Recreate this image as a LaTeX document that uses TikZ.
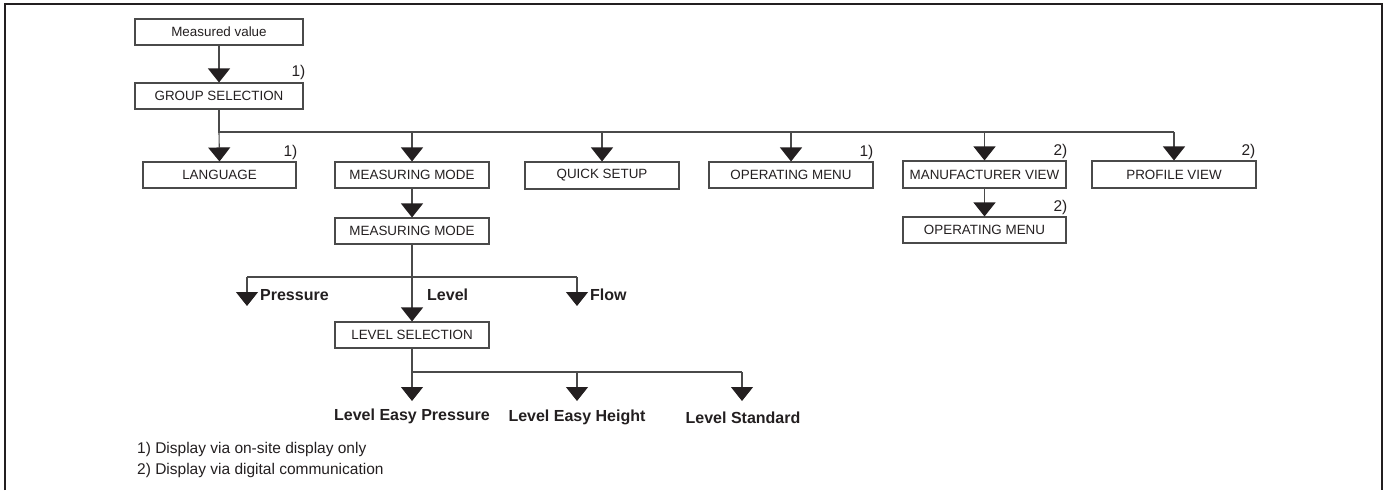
\documentclass[tikz,border=0pt]{standalone}
\usepackage{fontspec}
\setmainfont{Liberation Sans}
\usetikzlibrary{arrows.meta}
\definecolor{inkdark}{HTML}{231F20}
\definecolor{linegray}{HTML}{4A4A4A}
\begin{document}
\begin{tikzpicture}[x=1pt,y=-1pt,
  menubox/.style={draw=linegray, line width=1.1pt, inner sep=0pt,
    minimum height=26pt, text=inkdark,
    font=\fontsize{13.4}{16}\selectfont},
  fnmark/.style={inner sep=0pt, anchor=base east, text=inkdark,
    font=\fontsize{15.5}{18}\selectfont},
  choice/.style={inner sep=0pt, anchor=base, text=inkdark,
    font=\fontsize{16}{19}\selectfont\bfseries},
  note/.style={inner sep=0pt, anchor=base west, text=inkdark,
    font=\fontsize{15.5}{18}\selectfont},
  wire/.style={draw=linegray, line width=1.1pt},
  flowarrow/.style={wire, -{Triangle[width=22pt,length=14pt,fill=inkdark,color=inkdark]}}
]
\useasboundingbox (0,0) rectangle (1383,490);
% open frame
\draw[line width=2pt, inkdark] (5,490) -- (5,4) -- (1382,4) -- (1382,490);

% menu boxes
\node[menubox, minimum width=168pt] (mv)   at (219,32)  {Measured value};
\node[menubox, minimum width=168pt] (grp)  at (219,96)  {GROUP SELECTION};
\node[menubox, minimum width=153pt] (lang) at (219.5,175) {LANGUAGE};
\node[menubox, minimum width=154pt] (mm1)  at (412,175) {MEASURING MODE};
\node[menubox, minimum width=154pt] (mm2)  at (412,231) {MEASURING MODE};
\node[menubox, minimum width=154pt, minimum height=27pt] (qs) at (602,175.5) {QUICK SETUP};
\node[menubox, minimum width=164pt] (om1)  at (791,175) {OPERATING MENU};
\node[menubox, minimum width=163pt, minimum height=27pt] (mfv) at (984.5,174.5) {MANUFACTURER VIEW};
\node[menubox, minimum width=163pt] (om2)  at (984.5,230) {OPERATING MENU};
\node[menubox, minimum width=164pt, minimum height=27pt] (pv) at (1174,174.5) {PROFILE VIEW};
\node[menubox, minimum width=154pt] (lsel) at (412,335) {LEVEL SELECTION};

% footnote marks
\node[fnmark] (m1) at ([xshift=2pt,yshift=6pt]grp.north east) {1)};
\node[fnmark] (m2) at ([xshift=1pt,yshift=5pt]lang.north east) {1)};
\node[fnmark] (m3) at ([yshift=5pt]om1.north east) {1)};
\node[fnmark] (m4) at ([xshift=1pt,yshift=5pt]mfv.north east) {2)};
\node[fnmark] (m5) at ([xshift=1pt,yshift=5pt]om2.north east) {2)};
\node[fnmark] (m6) at ([xshift=-1pt,yshift=5pt]pv.north east) {2)};

% group selection bus
\coordinate (bus) at (219,132);
\coordinate (busend) at (1174,132);
\draw[flowarrow] (mv) -- (grp);
\draw[wire] (grp.south) -- (bus) -- (busend);
\draw[flowarrow] (bus) -- (lang.north);
\draw[flowarrow] (mm1.north |- bus) -- (mm1.north);
\draw[flowarrow] (qs.north |- bus) -- (qs.north);
\draw[flowarrow] (om1.north |- bus) -- (om1.north);
\draw[flowarrow] (mfv.north |- bus) -- (mfv.north);
\draw[flowarrow] (busend) -- (pv.north);
\draw[flowarrow] (mfv) -- (om2);
\draw[flowarrow] (mm1) -- (mm2);

% measuring mode branches
\coordinate (mmj) at (412,277);
\coordinate (mmleft) at (247,277);
\coordinate (mmright) at (577,277);
\coordinate (ptip) at (247,306);
\coordinate (ftip) at (577,306);
\draw[wire] (mm2.south) -- (mmj);
\draw[wire] (mmleft) -- (mmright);
\draw[flowarrow] (mmleft) -- (ptip);
\draw[flowarrow] (mmright) -- (ftip);
\draw[flowarrow] (mmj) -- (lsel.north);
\node[choice, anchor=base west] (pres) at (260,300) {Pressure};
\node[choice, anchor=base west] (lev)  at (427,300) {Level};
\node[choice, anchor=base west] (flow) at (590,300) {Flow};

% level selection branches
\coordinate (lsj) at (412,372);
\coordinate (lsright) at (742,372);
\coordinate (t1) at (412,401);
\coordinate (t2) at (577,401);
\coordinate (t3) at (742,401);
\draw[wire] (lsel.south) -- (lsj) -- (lsright);
\draw[flowarrow] (lsj) -- (t1);
\draw[flowarrow] (t1 |- lsj) -- (t2 |- lsj) -- (t2);
\draw[flowarrow] (lsright) -- (t3);
\node[choice] (lep) at (412,420) {Level Easy Pressure};
\node[choice] (leh) at (577,421) {Level Easy Height};
\node[choice] (lst) at (743,423) {Level Standard};

% notes
\node[note] (n1) at (137,453) {1) Display via on-site display only};
\node[note] (n2) at (137,474) {2) Display via digital communication};
\end{tikzpicture}
\end{document}
